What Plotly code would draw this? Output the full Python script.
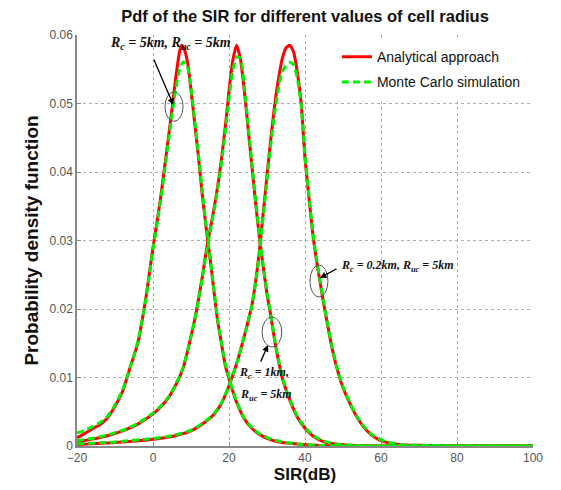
import plotly.graph_objects as go

# ---------------- data ----------------
# Rc = 5 km (left curve)
x_rc5 = [-20, -18, -16, -14, -12, -10, -8, -6, -4, -2, -1, 0, 1, 2, 3, 4, 5, 6, 7, 7.5, 8, 9, 10,
         11, 12, 13, 14, 15, 16, 17, 18, 19, 20, 21, 22, 24, 26, 28, 31, 34, 38, 43, 50, 60, 80, 100]
ana_rc5 = [0.0012, 0.0018, 0.0025, 0.0031, 0.0041, 0.0058, 0.0080, 0.0115, 0.0150, 0.0212, 0.0250,
           0.0290, 0.0325, 0.0362, 0.0405, 0.0448, 0.0492, 0.0538, 0.0576, 0.0585, 0.0582, 0.0563,
           0.0520, 0.0470, 0.0420, 0.0365, 0.0318, 0.0275, 0.0228, 0.0183, 0.0150, 0.0118, 0.0098,
           0.0080, 0.0064, 0.0040, 0.0026, 0.0017, 0.0009, 0.0005, 0.0003, 0.0001, 0.0, 0.0, 0.0, 0.0]
mc_rc5 = [0.0019, 0.0023, 0.0028, 0.0034, 0.0043, 0.0060, 0.0082, 0.0115, 0.0152, 0.0210, 0.0248,
          0.0287, 0.0322, 0.0358, 0.0400, 0.0442, 0.0484, 0.0522, 0.0550, 0.0557, 0.0561, 0.0555,
          0.0522, 0.0474, 0.0424, 0.0370, 0.0320, 0.0276, 0.0230, 0.0186, 0.0151, 0.0120, 0.0099,
          0.0081, 0.0065, 0.0041, 0.0027, 0.0018, 0.0010, 0.0006, 0.0003, 0.0001, 0.0, 0.0, 0.0, 0.0]

# Rc = 1 km (middle curve)
x_rc1 = [-20, -16, -12, -8, -4, 0, 2, 4, 6, 8, 10, 11, 12, 13, 14, 15, 16, 17, 18, 19, 20, 21, 22,
         23, 24, 25, 26, 27, 28, 29, 30, 31, 32, 33, 34, 35, 36, 38, 40, 42, 45, 48, 52, 60, 80, 100]
ana_rc1 = [0.0006, 0.0010, 0.0015, 0.0022, 0.0032, 0.0047, 0.0057, 0.0070, 0.0089, 0.0115, 0.0160,
           0.0185, 0.0215, 0.0248, 0.0284, 0.0315, 0.0345, 0.0378, 0.0418, 0.0465, 0.0518, 0.0563,
           0.0585, 0.0565, 0.0520, 0.0465, 0.0410, 0.0355, 0.0305, 0.0262, 0.0222, 0.0190, 0.0155,
           0.0125, 0.0100, 0.0082, 0.0067, 0.0042, 0.0026, 0.0015, 0.0006, 0.0003, 0.0001, 0.0, 0.0, 0.0]
mc_rc1 = [0.0008, 0.0011, 0.0016, 0.0023, 0.0033, 0.0048, 0.0058, 0.0071, 0.0090, 0.0116, 0.0160,
          0.0185, 0.0214, 0.0246, 0.0281, 0.0312, 0.0342, 0.0374, 0.0412, 0.0458, 0.0508, 0.0548,
          0.0568, 0.0566, 0.0526, 0.0470, 0.0414, 0.0358, 0.0308, 0.0264, 0.0224, 0.0191, 0.0156,
          0.0126, 0.0101, 0.0083, 0.0068, 0.0043, 0.0027, 0.0016, 0.0007, 0.0003, 0.0001, 0.0, 0.0, 0.0]

# Rc = 0.2 km (right curve)
x_rc02 = [-20, -10, 0, 5, 10, 13, 16, 18, 20, 22, 24, 26, 27, 28, 29, 30, 31, 32, 33, 34, 35, 36,
          37, 38, 39, 40, 41, 42, 43, 44, 45, 46, 47, 48, 49, 50, 52, 54, 56, 58, 61, 65, 70, 80, 100]
ana_rc02 = [0.0002, 0.0005, 0.0010, 0.0014, 0.0022, 0.0032, 0.0046, 0.0062, 0.0088, 0.0120, 0.0160,
            0.0205, 0.0240, 0.0285, 0.0340, 0.0395, 0.0448, 0.0497, 0.0535, 0.0565, 0.0581, 0.0585,
            0.0575, 0.0545, 0.0500, 0.0420, 0.0365, 0.0312, 0.0272, 0.0238, 0.0205, 0.0175, 0.0146,
            0.0122, 0.0102, 0.0085, 0.0060, 0.0039, 0.0024, 0.0014, 0.0006, 0.0002, 0.0001, 0.0, 0.0]
mc_rc02 = [0.0003, 0.0006, 0.0011, 0.0015, 0.0023, 0.0033, 0.0047, 0.0063, 0.0088, 0.0120, 0.0160,
           0.0204, 0.0238, 0.0282, 0.0335, 0.0388, 0.0440, 0.0486, 0.0522, 0.0546, 0.0555, 0.0560,
           0.0557, 0.0536, 0.0498, 0.0424, 0.0368, 0.0315, 0.0274, 0.0240, 0.0207, 0.0177, 0.0148,
           0.0124, 0.0104, 0.0087, 0.0061, 0.0040, 0.0025, 0.0015, 0.0007, 0.0002, 0.0001, 0.0, 0.0]

x_ticks = [-20, 0, 20, 40, 60, 80, 100]
y_ticks = [0, 0.01, 0.02, 0.03, 0.04, 0.05, 0.06]
y_tick_text = ["0", "0.01", "0.02", "0.03", "0.04", "0.05", "0.06"]

RED = "#ff0000"
GREEN = "#00f000"

fig = go.Figure()

for i, (xs, ys) in enumerate([(x_rc5, ana_rc5), (x_rc1, ana_rc1), (x_rc02, ana_rc02)]):
    fig.add_trace(go.Scatter(x=xs, y=ys, mode="lines",
                             line=dict(color=RED, width=3, shape="spline", smoothing=0.6),
                             name="Analytical approach", legendgroup="a", showlegend=(i == 0)))
for i, (xs, ys) in enumerate([(x_rc5, mc_rc5), (x_rc1, mc_rc1), (x_rc02, mc_rc02)]):
    fig.add_trace(go.Scatter(x=xs, y=ys, mode="lines",
                             line=dict(color=GREEN, width=3, dash="7px,4px", shape="spline", smoothing=0.6),
                             name="Monte Carlo simulation", legendgroup="m", showlegend=(i == 0)))

font_big = dict(family="Liberation Serif", size=14, color="#111111")
font_small = dict(family="Liberation Serif", size=12, color="#111111")

annotations = [
    dict(x=-11.8, y=0.0588, xref="x", yref="y", xanchor="left", showarrow=False, font=font_big,
         text="<b><i>R<sub>c</sub> = 5km, R<sub>uc</sub> = 5km</i></b>"),
    dict(x=5.34, y=0.0498, ax=0.08, ay=0.0566, xref="x", yref="y", axref="x", ayref="y",
         showarrow=True, arrowhead=2, arrowsize=1, arrowwidth=1.3, arrowcolor="black", text=""),
    dict(x=22.1, y=0.0107, xref="x", yref="y", xanchor="left", showarrow=False, font=font_small,
         text="<b><i>R<sub>c</sub> = 1km,</i></b>"),
    dict(x=22.4, y=0.0075, xref="x", yref="y", xanchor="left", showarrow=False, font=font_small,
         text="<b><i>R<sub>uc</sub> = 5km</i></b>"),
    dict(x=30.26, y=0.01474, ax=28.16, ay=0.0121, xref="x", yref="y", axref="x", ayref="y",
         showarrow=True, arrowhead=2, arrowsize=1, arrowwidth=1.3, arrowcolor="black", text=""),
    dict(x=49.0, y=0.0263, xref="x", yref="y", xanchor="left", showarrow=False, font=font_small,
         text="<b><i>R<sub>c</sub> = 0.2km, R<sub>uc</sub> = 5km</i></b>"),
    dict(x=43.95, y=0.02453, ax=48.7, ay=0.0260, xref="x", yref="y", axref="x", ayref="y",
         showarrow=True, arrowhead=2, arrowsize=1, arrowwidth=1.3, arrowcolor="black", text=""),
]

shapes = [
    dict(type="circle", xref="x", yref="y", x0=3.16, x1=7.9, y0=0.0474, y1=0.0517,
         line=dict(color="#555555", width=1)),
    dict(type="circle", xref="x", yref="y", x0=28.7, x1=33.9, y0=0.01445, y1=0.01883,
         line=dict(color="#555555", width=1)),
    dict(type="circle", xref="x", yref="y", x0=41.3, x1=46.05, y0=0.02175, y1=0.02642,
         line=dict(color="#555555", width=1)),
]

fig.update_layout(
    width=561, height=490,
    margin=dict(l=69, r=36, t=27, b=52),
    paper_bgcolor="white", plot_bgcolor="white",
    title=dict(text="<b>Pdf of the SIR for different values of cell radius</b>",
               x=0.5, xref="paper", xanchor="center", y=0.983, yanchor="middle",
               font=dict(family="Liberation Sans", size=16.5, color="#111111")),
    font=dict(family="Liberation Sans", size=12, color="#555555"),
    legend=dict(x=0.57, y=0.985, xanchor="left", yanchor="top",
                bgcolor="white", borderwidth=0,
                font=dict(family="Liberation Sans", size=14, color="#111111"),
                tracegroupgap=4, itemwidth=30),
    annotations=annotations,
    shapes=shapes,
    showlegend=True,
)

fig.update_xaxes(range=[-20, 100], tickvals=x_ticks, ticks="inside", ticklen=4, tickcolor="#888888",
                 showline=True, linecolor="#888888", linewidth=1.5, mirror=False, automargin=False,
                 showgrid=True, gridcolor="#b0b0b0", griddash="dot", gridwidth=1, zeroline=False,
                 title=dict(text="<b>SIR(dB)</b>", font=dict(family="Liberation Sans", size=17, color="#111111"),
                            standoff=2),
                 tickfont=dict(size=12, color="#555555"))
fig.update_yaxes(range=[0, 0.06], tickvals=y_ticks, ticktext=y_tick_text, ticks="inside", ticklen=4,
                 tickcolor="#888888", showline=True, linecolor="#888888", linewidth=1.5, mirror=False,
                 automargin=False,
                 showgrid=True, gridcolor="#b0b0b0", griddash="dot", gridwidth=1, zeroline=False,
                 title=dict(text="<b>Probability density function</b>",
                            font=dict(family="Liberation Sans", size=19, color="#111111"), standoff=6),
                 tickfont=dict(size=12, color="#555555"))

fig.write_html("out.html")
